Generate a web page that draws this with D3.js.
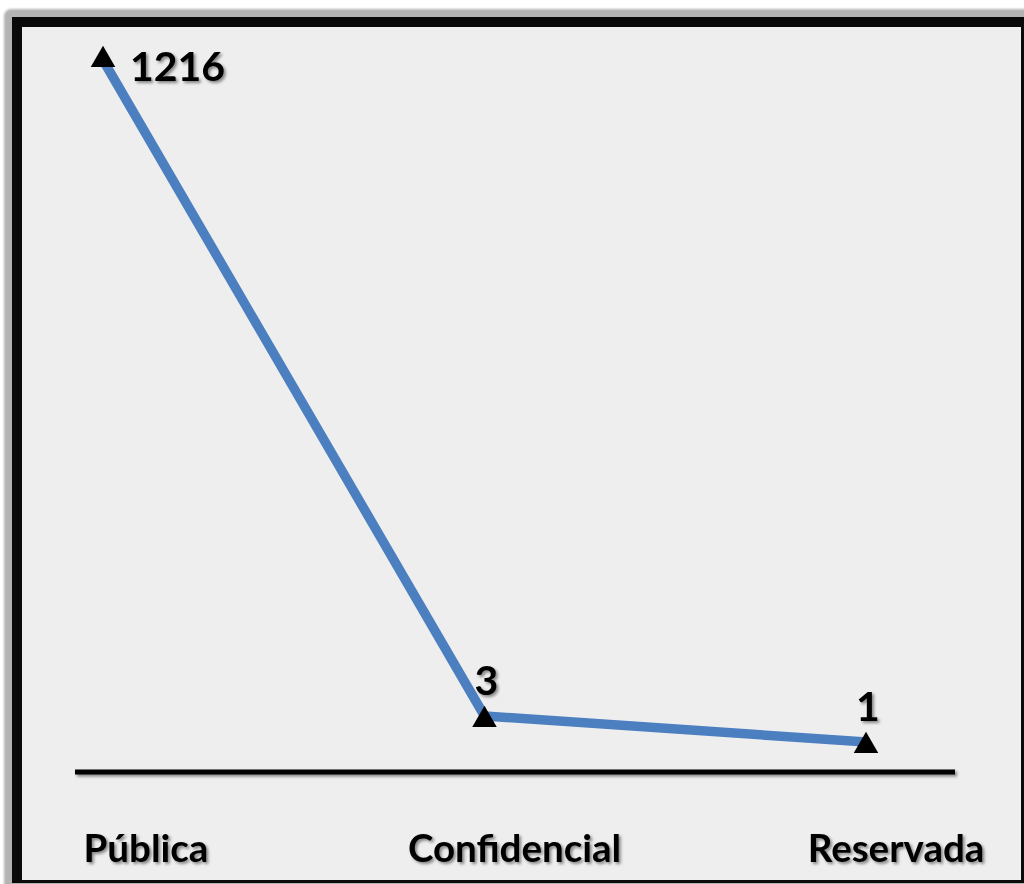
<!DOCTYPE html>
<html><head><meta charset="utf-8">
<script src="https://cdn.jsdelivr.net/npm/d3@7"></script>
<style>html,body{margin:0;padding:0;background:#fff;}svg{display:block;}</style>
</head><body>
<script>
const categories = ["Pública", "Confidencial", "Reservada"];
const values = [1216, 3, 1];

const W = 1024, H = 884;
const svg = d3.select("body").append("svg").attr("width", W).attr("height", H);

const defs = svg.append("defs");
const f = defs.append("filter").attr("id","sh").attr("filterUnits","userSpaceOnUse")
  .attr("x",0).attr("y",0).attr("width",W).attr("height",H);
f.append("feDropShadow").attr("dx",2).attr("dy",2).attr("stdDeviation",1.6).attr("flood-color","#000").attr("flood-opacity",0.45);
const fb = defs.append("filter").attr("id","blur").attr("x","-5%").attr("y","-5%").attr("width","110%").attr("height","110%");
fb.append("feGaussianBlur").attr("stdDeviation",1.2);

// frame
svg.append("rect").attr("x",4).attr("y",9).attr("width",1040).attr("height",900).attr("rx",7).attr("fill","#b3b3b3").attr("filter","url(#blur)");
svg.append("rect").attr("x",12).attr("y",17).attr("width",1012).attr("height",866).attr("fill","#0a0a0a");
svg.append("rect").attr("x",22).attr("y",27).attr("width",999).attr("height",853).attr("fill","#eeeeee");

// scales
const x = d3.scalePoint().domain(categories).range([103, 866]);
const y = d3.scaleLinear().domain([1, 3, 1216]).range([742, 716, 60]);

// baseline axis
svg.append("line").attr("x1",75).attr("x2",955).attr("y1",772).attr("y2",772)
  .attr("stroke","#000").attr("stroke-width",5).attr("filter","url(#sh)");

// category labels
svg.append("g").selectAll("text").data(categories).join("text")
  .attr("x", (d,i) => x(d) + (i===0 ? 43 : 30)).attr("y", 862)
  .attr("text-anchor","middle")
  .attr("font-family","Lato, 'Open Sans', sans-serif").attr("font-weight","bold").attr("font-size",38.5)
  .attr("fill","#000").attr("filter","url(#sh)")
  .text(d => d);

const data = categories.map((c,i)=>({c, v: values[i], i}));

// line
svg.append("path").datum(data)
  .attr("d", d3.line().x(d=>x(d.c)).y(d=>y(d.v)))
  .attr("fill","none").attr("stroke","#4b7fc0").attr("stroke-width",9.5).attr("stroke-linejoin","round");

// markers
svg.append("g").selectAll("path").data(data).join("path")
  .attr("d", d3.symbol().type(d3.symbolTriangle).size(260))
  .attr("transform", d => `translate(${x(d.c)},${y(d.v)+ (d.i===0?0:4)})`)
  .attr("fill","#000");

// value labels
svg.append("g").selectAll("text").data(data).join("text")
  .attr("x", d => d.i===0 ? x(d.c)+27 : x(d.c)+2)
  .attr("y", d => d.i===0 ? y(d.v)+21 : y(d.v)-21)
  .attr("text-anchor", d => d.i===0 ? "start" : "middle")
  .attr("font-family","Lato, 'Open Sans', sans-serif").attr("font-weight","bold").attr("font-size",41)
  .attr("fill","#000").attr("filter","url(#sh)")
  .text(d => d.v);
</script>
</body></html>
